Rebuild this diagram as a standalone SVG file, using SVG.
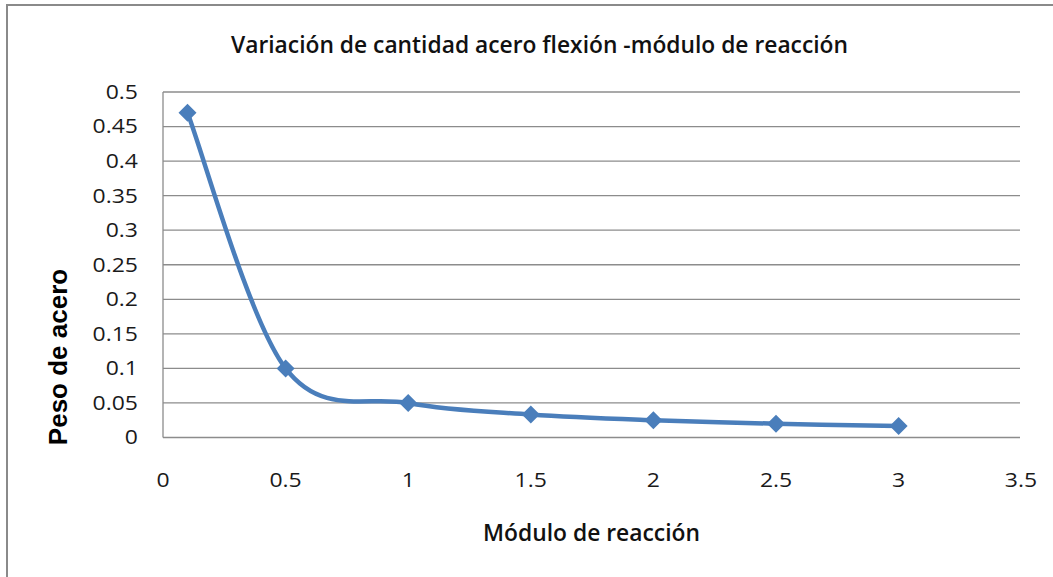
<svg xmlns="http://www.w3.org/2000/svg" width="1053" height="577" viewBox="0 0 1053 577">
<defs>
<style>
.grid{stroke:#8c8c8c;stroke-width:1.3;fill:none}
.tick{font-family:"Open Sans","Liberation Sans",sans-serif;font-size:20.5px;fill:#1a1a1a}
.ttl{font-family:"Open Sans","Liberation Sans",sans-serif;font-weight:600;font-size:22.5px;fill:#111}
.ytl{font-family:"Liberation Sans",Arial,sans-serif;font-weight:bold;font-size:26px;fill:#000}
.series{stroke:#4a7ebb;stroke-width:4.5;fill:none;stroke-linecap:round;stroke-linejoin:round}
</style>
<path id="dia" d="M0,-9 L9,0 L0,9 L-9,0 Z" fill="#4a7ebb"/>
</defs>
<rect x="0" y="0" width="1053" height="577" fill="#fff"/>
<rect id="frame" x="7" y="5" width="1100" height="620" fill="none" stroke="#8a8a8a" stroke-width="2"/>
<g id="title"><text class="ttl" x="539.5" y="52.5" text-anchor="middle" textLength="617" lengthAdjust="spacingAndGlyphs">Variación de cantidad acero flexión -módulo de reacción</text></g>
<g id="gridlines">
<line class="grid" x1="163" y1="92" x2="1020" y2="92"/>
<line class="grid" x1="163" y1="126.55" x2="1020" y2="126.55"/>
<line class="grid" x1="163" y1="161.1" x2="1020" y2="161.1"/>
<line class="grid" x1="163" y1="195.65" x2="1020" y2="195.65"/>
<line class="grid" x1="163" y1="230.2" x2="1020" y2="230.2"/>
<line class="grid" x1="163" y1="264.75" x2="1020" y2="264.75"/>
<line class="grid" x1="163" y1="299.3" x2="1020" y2="299.3"/>
<line class="grid" x1="163" y1="333.85" x2="1020" y2="333.85"/>
<line class="grid" x1="163" y1="368.4" x2="1020" y2="368.4"/>
<line class="grid" x1="163" y1="402.95" x2="1020" y2="402.95"/>
<line class="grid" x1="163" y1="437.5" x2="1020" y2="437.5"/>
<line class="grid" x1="163" y1="92" x2="163" y2="437.5"/>
</g>
<g id="y-labels" transform="scale(1.12,1)">
<text class="tick" text-anchor="end" x="123.2" y="99">0.5</text>
<text class="tick" text-anchor="end" x="123.2" y="133.5">0.45</text>
<text class="tick" text-anchor="end" x="123.2" y="168.1">0.4</text>
<text class="tick" text-anchor="end" x="123.2" y="202.6">0.35</text>
<text class="tick" text-anchor="end" x="123.2" y="237.2">0.3</text>
<text class="tick" text-anchor="end" x="123.2" y="271.7">0.25</text>
<text class="tick" text-anchor="end" x="123.2" y="306.3">0.2</text>
<text class="tick" text-anchor="end" x="123.2" y="340.8">0.15</text>
<text class="tick" text-anchor="end" x="123.2" y="375.4">0.1</text>
<text class="tick" text-anchor="end" x="123.2" y="409.9">0.05</text>
<text class="tick" text-anchor="end" x="123.2" y="444.5">0</text>
</g>
<g id="x-labels" transform="scale(1.12,1)">
<text class="tick" text-anchor="middle" x="145.5" y="487.5">0</text>
<text class="tick" text-anchor="middle" x="255" y="487.5">0.5</text>
<text class="tick" text-anchor="middle" x="364.5" y="487.5">1</text>
<text class="tick" text-anchor="middle" x="473.9" y="487.5">1.5</text>
<text class="tick" text-anchor="middle" x="583.4" y="487.5">2</text>
<text class="tick" text-anchor="middle" x="692.9" y="487.5">2.5</text>
<text class="tick" text-anchor="middle" x="802.3" y="487.5">3</text>
<text class="tick" text-anchor="middle" x="911.6" y="487.5">3.5</text>
</g>
<g id="x-title"><text class="ttl" x="591.5" y="540.5" text-anchor="middle" textLength="217" lengthAdjust="spacingAndGlyphs">Módulo de reacción</text></g>
<g id="y-title"><text class="ytl" transform="translate(66.5,357) rotate(-90)" text-anchor="middle">Peso de acero</text></g>
<g id="connectors">
<path class="series" d="M187.5,112.7 C203.85,155.3 248.8,320 285.6,368.4 C322.4,416.8 367.3,395.3 408.2,402.95 C449.1,410.6 489.9,411.6 530.8,414.5 C571.7,417.4 612.5,418.7 653.4,420.2 C694.3,421.7 735.1,422.7 776,423.7 C816.9,424.7 878.2,425.6 898.6,426"/>
</g>
<g id="p1"><use href="#dia" x="187.5" y="112.7"/></g>
<g id="p2"><use href="#dia" x="285.6" y="368.4"/></g>
<g id="p3"><use href="#dia" x="408.2" y="402.95"/></g>
<g id="p4"><use href="#dia" x="530.8" y="414.5"/></g>
<g id="p5"><use href="#dia" x="653.4" y="420.2"/></g>
<g id="p6"><use href="#dia" x="776" y="423.7"/></g>
<g id="p7"><use href="#dia" x="898.6" y="426"/></g>
</svg>
